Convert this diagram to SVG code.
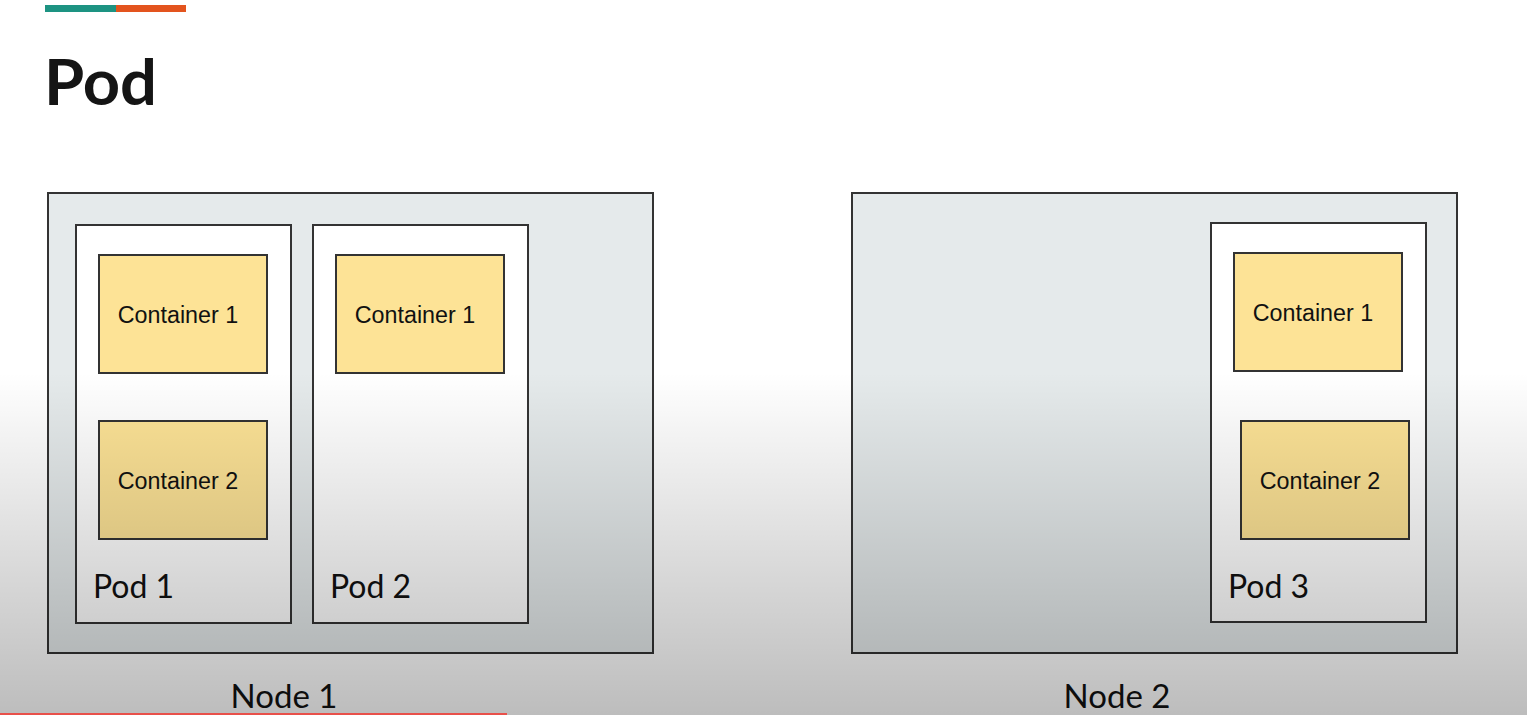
<svg xmlns="http://www.w3.org/2000/svg" width="1527" height="715" viewBox="0 0 1527 715">
<defs>
<linearGradient id="shade" x1="0" y1="0" x2="0" y2="1">
<stop offset="0" stop-color="#000" stop-opacity="0"/>
<stop offset="1" stop-color="#000" stop-opacity="0.26"/>
</linearGradient>
</defs>
<style>
.node{fill:#e5eaeb;stroke:#333;stroke-width:2}
.pod{fill:#fff;stroke:#333;stroke-width:2}
.ctr{fill:#fde396;stroke:#333;stroke-width:2}
.ct{font-family:"Liberation Sans",Arial,sans-serif;font-size:23.3px;fill:#111;text-anchor:middle}
.pl{font-family:Lato,"Liberation Sans",sans-serif;font-size:32px;fill:#111}
.nl{font-family:Lato,"Liberation Sans",sans-serif;font-size:33px;fill:#111;text-anchor:middle}
</style>
<rect width="1527" height="715" fill="#fff"/>
<rect x="45" y="5" width="71" height="7" fill="#1d9382"/>
<rect x="116" y="5" width="70" height="7" fill="#e3541e"/>
<text x="44" y="105" font-family="Lato,'Liberation Sans',sans-serif" font-weight="bold" font-size="64" fill="#151515" textLength="113" lengthAdjust="spacingAndGlyphs">Pod</text>

<g id="node1">
<rect class="node" x="48" y="193" width="605" height="460"/>
<text class="nl" x="284" y="708">Node 1</text>
</g>
<g id="pod1">
<rect class="pod" x="76" y="225" width="215" height="398"/>
<text class="pl" x="93" y="598">Pod 1</text>
</g>
<g id="pod1-c1">
<rect class="ctr" x="99" y="255" width="168" height="118"/>
<text class="ct" x="178" y="323">Container 1</text>
</g>
<g id="pod1-c2">
<rect class="ctr" x="99" y="421" width="168" height="118"/>
<text class="ct" x="178" y="489">Container 2</text>
</g>
<g id="pod2">
<rect class="pod" x="313" y="225" width="215" height="398"/>
<text class="pl" x="330" y="598">Pod 2</text>
</g>
<g id="pod2-c1">
<rect class="ctr" x="336" y="255" width="168" height="118"/>
<text class="ct" x="415" y="323">Container 1</text>
</g>

<g id="node2">
<rect class="node" x="852" y="193" width="605" height="460"/>
<text class="nl" x="1117" y="708">Node 2</text>
</g>
<g id="pod3">
<rect class="pod" x="1211" y="223" width="215" height="399"/>
<text class="pl" x="1228" y="598">Pod 3</text>
</g>
<g id="pod3-c1">
<rect class="ctr" x="1234" y="253" width="168" height="118"/>
<text class="ct" x="1313" y="321">Container 1</text>
</g>
<g id="pod3-c2">
<rect class="ctr" x="1241" y="421" width="168" height="118"/>
<text class="ct" x="1320" y="489">Container 2</text>
</g>
<g id="connectors"></g>

<rect x="0" y="372" width="1527" height="343" fill="url(#shade)" pointer-events="none"/>
<rect x="0" y="713" width="507" height="2" fill="#e8504a"/>
</svg>
